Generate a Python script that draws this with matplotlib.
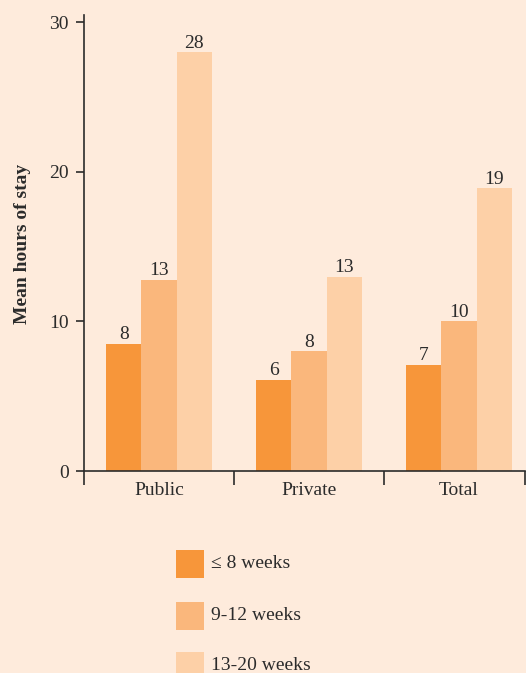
import numpy as np
import matplotlib
matplotlib.use('Agg')
import matplotlib.pyplot as plt
from matplotlib.patches import Rectangle

plt.rcParams['font.family'] = ['Liberation Serif', 'DejaVu Serif']

# data
groups = ['Public', 'Private', 'Total']
series = ['\u2264 8 weeks', '9-12 weeks', '13-20 weeks']
heights = [
    [8.5, 6.1, 7.1],     # <= 8 weeks
    [12.8, 8.0, 10.0],   # 9-12 weeks
    [28.0, 13.0, 18.9],  # 13-20 weeks
]
labels = [
    ['8', '6', '7'],
    ['13', '8', '10'],
    ['28', '13', '19'],
]
colors = ['#F7963A', '#FAB77C', '#FDD0A7']
bg = '#FEEBDC'
ink = '#2b2b2b'
fs = 14

W, H = 526, 673
fig = plt.figure(figsize=(W / 100, H / 100), dpi=100, facecolor=bg)
ax = fig.add_axes([84 / W, (H - 471) / H, (525 - 84) / W, (471 - 15) / H])
ax.set_facecolor(bg)

xmax = (525 - 84) / 150
x = np.arange(len(groups)) + 0.5
w = 0.235
handles = []
for i, (h, lab, c) in enumerate(zip(heights, labels, colors)):
    b = ax.bar(x + (i - 1) * w, h, width=w, color=c, label=series[i])
    handles.append(b)
    for rect, t in zip(b, lab):
        ax.text(rect.get_x() + rect.get_width() / 2, rect.get_height() + 0.3, t,
                ha='center', va='baseline', fontsize=fs, color=ink)

ax.set_xlim(0, xmax)
ax.set_ylim(0, 30.5)
ax.set_yticks([0, 10, 20, 30])
ax.set_xticks([0, 1, 2, xmax])
ax.set_xticklabels([])
ax.set_xticks(x, minor=True)
ax.set_xticklabels(groups, minor=True)
ax.tick_params(axis='x', which='major', length=10, width=1.2, color=ink, direction='out')
ax.tick_params(axis='x', which='minor', length=0, labelsize=fs, labelcolor=ink, pad=8)
ax.tick_params(axis='y', length=6, width=1.2, color=ink, labelsize=fs, labelcolor=ink, pad=5)
for s in ['top', 'right']:
    ax.spines[s].set_visible(False)
for s in ['left', 'bottom']:
    ax.spines[s].set_color(ink)
    ax.spines[s].set_linewidth(1.2)

fig.text(23 / W, 1 - 244 / H, 'Mean hours of stay', rotation=90, ha='center', va='center',
         fontsize=fs, fontweight='bold', color=ink)

# legend drawn by hand: squares with labels below the plot
rows_y = [564, 616, 666]
for hdl, name, yc in zip(handles, series, rows_y):
    fc = hdl.patches[0].get_facecolor()
    fig.add_artist(Rectangle((176 / W, (H - yc - 14) / H), 28 / W, 28 / H,
                             transform=fig.transFigure, facecolor=fc, edgecolor='none'))
    fig.text(211 / W, (H - yc) / H, name, ha='left', va='center', fontsize=fs, color=ink)

fig.savefig('out.png', dpi=100, facecolor=bg)
